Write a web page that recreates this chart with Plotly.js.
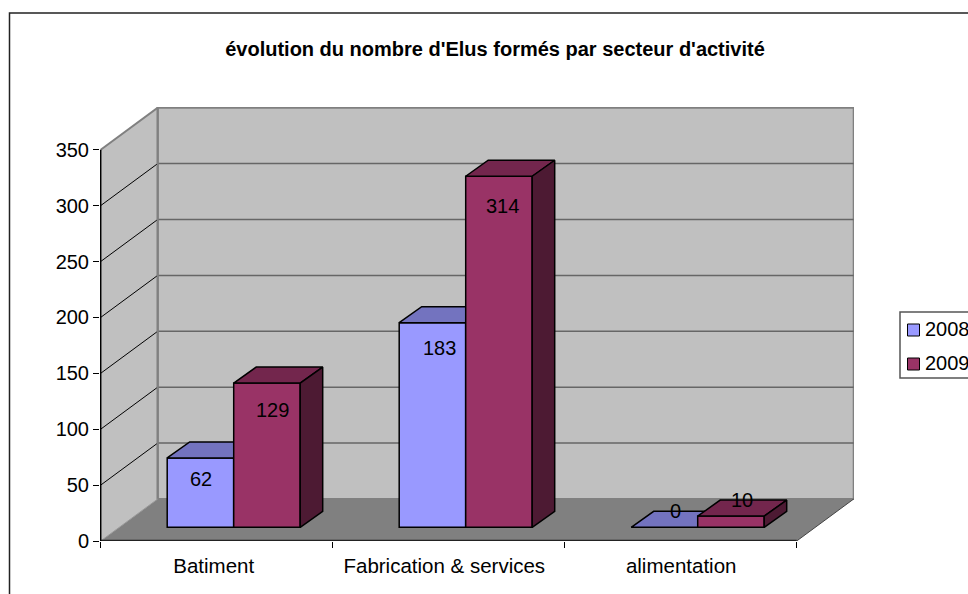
<!DOCTYPE html>
<html>
<head>
<meta charset="utf-8">
<script src="https://cdn.plot.ly/plotly-3.0.1.min.js"></script>
<style>html,body{margin:0;padding:0;width:968px;height:594px;overflow:hidden;background:#fff}#c{width:1000px;height:620px}</style>
</head>
<body>
<div id="c"></div>
<script>
const categories = ["Batiment", "Fabrication & services", "alimentation"];
const series2008 = [62, 183, 0];
const series2009 = [129, 314, 10];
const years = ["2008", "2009"];
const yTicks = [0, 50, 100, 150, 200, 250, 300, 350];
const colors2008 = {front: "#9999FF", top: "#7373BF", side: "#4D4D80"};
const colors2009 = {front: "#993366", top: "#73264D", side: "#4D1A33"};

const FONT = "Liberation Sans, Arial, sans-serif";
const W = 1000, H = 620, L = 100, T = 107, PW = 754, PH = 434;
const PX_X = 232, PX_Y = 1.118;             // pixels per category / per unit
const u = p => p / PX_X, v = p => p / PX_Y;
const wallDX = u(57), wallDY = v(42);       // depth of the room
const barDX = u(22.5), barDY = v(16);       // depth of a bar
const floorLift = v(13.7), floorShift = u(17); // bars stand inside the floor
const barW = u(66.5);
const n = categories.length;
const centers = categories.map((_, i) => i + 0.5 + floorShift);
const xStart = -u(0.7), xMax = xStart + PW / PX_X, yMax = PH / PX_Y;
const catLabelPos = [0.487, 0.481, 0.502];

function frontTrace(vals, name, col, z) {
  return {type: "bar", name: name, x: centers, y: vals,
    base: vals.map(() => floorLift), offsetgroup: name, zorder: z,
    marker: {color: col.front, line: {color: "#000", width: 1.5}},
    hoverinfo: "skip", cliponaxis: false, showlegend: false};
}
function poly(xs, ys, fill, z) {
  return {type: "scatter", mode: "lines", x: xs, y: ys, fill: "toself", fillcolor: fill,
    line: {color: "#000", width: 1.5}, hoverinfo: "skip", showlegend: false, zorder: z, cliponaxis: false};
}
function faces(vals, col, left, z) {
  const out = [];
  vals.forEach((val, i) => {
    const x0 = centers[i] + left, x1 = x0 + barW, top = floorLift + val;
    out.push(poly([x0, x0 + barDX, x1 + barDX, x1, x0],
                  [top, top + barDY, top + barDY, top, top], col.top, z));
    out.push(poly([x1, x1 + barDX, x1 + barDX, x1, x1],
                  [top, top + barDY, floorLift + barDY, floorLift, top], col.side, z));
  });
  return out;
}
const traces = [
  frontTrace(series2008, years[0], colors2008, 1),
  ...faces(series2008, colors2008, -barW, 2),
  frontTrace(series2009, years[1], colors2009, 3),
  ...faces(series2009, colors2009, 0, 4)
];

const px = p => (p - L) / PW, py = p => (T + PH - p) / PH;
const grey = "#808080";
const shapes = [];
function path(pts, fill, color, width) {
  shapes.push({type: "path", xref: "x", yref: "y", layer: "below", fillcolor: fill,
    line: {color: color, width: width},
    path: pts.map((q, i) => (i ? "L" : "M") + q[0] + "," + q[1]).join(" ") + (fill ? " Z" : "")});
}
function line(x0, y0, x1, y1, color, width) {
  shapes.push({type: "line", xref: "x", yref: "y", layer: "below", x0, y0, x1, y1, line: {color, width}});
}
const top350 = yTicks[yTicks.length - 1];
// side wall, back wall, floor
path([[0, 0], [wallDX, wallDY], [wallDX, wallDY + top350], [0, top350]], "#C0C0C0", grey, 0);
path([[wallDX, wallDY], [n + wallDX, wallDY], [n + wallDX, wallDY + top350], [wallDX, wallDY + top350]], "#C0C0C0", grey, 2);
path([[0, 0], [wallDX, wallDY], [n + wallDX, wallDY], [n, 0]], grey, grey, 0);
yTicks.slice(1, -1).forEach(t => {
  line(0, t, wallDX, t + wallDY, "#000", 1);
  line(wallDX, t + wallDY, n + wallDX, t + wallDY, "#666", 1.5);
});
line(0, top350, wallDX, top350 + wallDY, grey, 2);
line(wallDX, wallDY, wallDX, wallDY + top350, grey, 2);
line(n, 0, n + wallDX, wallDY, "#444", 1);
line(0, 0, wallDX, wallDY, "#999", 1);
line(0, 0, n, 0, "#222", 2.5);
line(0, 0, 0, top350, "#000", 1.5);
// chart frame
shapes.push({type: "rect", xref: "paper", yref: "paper", layer: "below",
  x0: px(9.5), y0: py(H - 5), x1: px(W - 5), y1: py(13), line: {color: "#222", width: 1.5}, fillcolor: "rgba(0,0,0,0)"});
// legend frame and keys
shapes.push({type: "rect", xref: "paper", yref: "paper", layer: "above",
  x0: px(900), y0: py(378), x1: px(W - 5), y1: py(312), line: {color: "#555", width: 1.5}, fillcolor: "#fff"});
const legendY = [330, 364];
[colors2008, colors2009].forEach((c, i) => shapes.push({type: "rect", xref: "paper", yref: "paper", layer: "above",
  x0: px(907.5), x1: px(919.5), y0: py(legendY[i] + 6), y1: py(legendY[i] - 6),
  line: {color: "#000", width: 1}, fillcolor: c.front}));

const labelShiftX = [[1, 7, 11], [6, 4, 11.5]];
const labelShiftY = [[-21, -25, 16], [-27, -30, 16]];
const annotations = [];
[series2008, series2009].forEach((vals, s) => vals.forEach((val, i) => annotations.push({
  x: centers[i] + (s ? barW / 2 : -barW / 2), y: floorLift + val, xref: "x", yref: "y",
  text: String(val), showarrow: false, xanchor: "center", yanchor: "middle",
  xshift: labelShiftX[s][i], yshift: labelShiftY[s][i], font: {family: FONT, size: 20, color: "#000"}
})));
years.forEach((y, i) => annotations.push({xref: "paper", yref: "paper", x: px(926), y: py(legendY[i] - 1),
  text: y, showarrow: false, xanchor: "left", yanchor: "middle", borderpad: 0, borderwidth: 0, xshift: -1,
  font: {family: FONT, size: 20, color: "#000"}}));

Plotly.newPlot("c", traces, {
  width: W, height: H,
  margin: {l: L, t: T, r: W - L - PW, b: H - T - PH, pad: 0},
  paper_bgcolor: "#fff", plot_bgcolor: "rgba(0,0,0,0)",
  showlegend: false, hovermode: false,
  barmode: "group", bargap: 1 - 2 * barW, bargroupgap: 0,
  title: {text: "évolution du nombre d'Elus formés par secteur d'activité",
    x: 495 / W, xanchor: "center", y: 1 - 49 / H, yanchor: "middle", xref: "container", yref: "container",
    font: {family: FONT, size: 20, color: "#000", weight: "bold"}},
  xaxis: {range: [xStart, xMax], fixedrange: true, showgrid: false, zeroline: false, showline: false,
    tickmode: "array", tickvals: catLabelPos.map((p, i) => i + p), ticktext: categories,
    ticks: "", ticklabelstandoff: 10, tickfont: {family: FONT, size: 20.5, color: "#000"},
    minor: {tickmode: "array", tickvals: [0, 1, 2, 3], ticks: "outside", ticklen: 6, tickwidth: 1, tickcolor: "#000", showgrid: false}},
  yaxis: {range: [0, yMax], fixedrange: true, showgrid: false, zeroline: false, showline: false,
    tickmode: "array", tickvals: yTicks, ticks: "outside", ticklen: 6, tickwidth: 1, tickcolor: "#000",
    tickfont: {family: FONT, size: 20, color: "#000"}},
  shapes, annotations
}, {displayModeBar: false, staticPlot: true});
</script>
</body>
</html>
